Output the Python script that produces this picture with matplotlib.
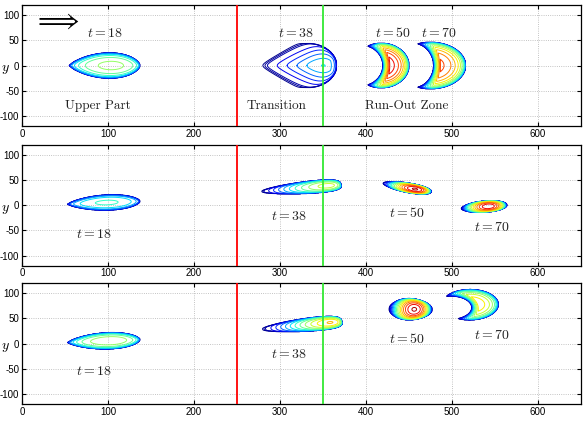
import numpy as np
import matplotlib
matplotlib.use("Agg")
import matplotlib.pyplot as plt

plt.rcParams['mathtext.fontset'] = 'cm'
plt.rcParams['font.family'] = ['Liberation Sans', 'DejaVu Sans']
plt.rcParams['axes.unicode_minus'] = False

# ---- data ----
# elongated streaks: panel, tail (x, y), head (x, y), half width,
# tail width fraction, width growth, head taper, tail rounding, rise, fall, peak
streak_panel = [0, 1, 1, 1, 1, 2, 2, 2]
streak_tail = [(55, 0), (53, 2), (278, 27), (420, 44), (511, -7), (53, 2), (278, 28), (427, 69)]
streak_head = [(137, 0), (137, 8), (371, 41), (476, 26), (564, 1), (137, 8), (372, 44), (477, 67)]
streak_halfw = [25, 15, 12, 9, 11, 16, 13, 21]
streak_t0 = [0.0, 0.0, 0.2, 0.2, 0.2, 0.0, 0.2, 0.5]
streak_grow = [0.8, 0.8, 1.0, 0.9, 0.8, 0.8, 1.0, 0.5]
streak_taper = [0.6, 0.6, 0.3, 0.5, 0.5, 0.6, 0.3, 0.5]
streak_round = [50, 50, 8, 8, 8, 50, 8, 3]
streak_rise = [0.3, 0.3, 1.0, 1.0, 0.9, 0.35, 1.2, 1.0]
streak_fall = [0.2, 0.25, 0.2, 0.5, 0.6, 0.25, 0.2, 0.7]
streak_peak = [0.55, 0.42, 0.62, 0.97, 0.95, 0.58, 0.72, 0.97]

# crescent-shaped fronts: panel, centre, outer radii, inner offset, inner radii, angle, peak
cres_panel = [0, 0, 2]
cres_center = [(418, 0), (475, 0), (521, 77)]
cres_outer = [(32, 44), (41, 46), (33, 30)]
cres_offset = [(-23, 0), (-20, 0), (-22, -4)]
cres_inner = [(25, 40), (24, 44), (24, 23)]
cres_angle = [0, 0, 5]
cres_peak = [0.97, 0.88, 0.72]

# chevron at t = 38 in the top panel: back x, back slope, nose rounding, ramp,
# front centre x, front radii, peak
chev_back = 278
chev_slope = 1.0
chev_nose = 5
chev_ramp = 75
chev_front = 332
chev_radii = (34, 44)
chev_peak = 0.40

labels_t = [
    [('t = 18', 97, 64), ('t = 38', 319, 64), ('t = 50', 432, 64), ('t = 70', 485, 64)],
    [('t = 18', 84, -57), ('t = 38', 311, -21), ('t = 50', 448, -16), ('t = 70', 547, -43)],
    [('t = 18', 84, -54), ('t = 38', 311, -20), ('t = 50', 448, 8), ('t = 70', 547, 16)],
]
zone_labels = [('Upper Part', 88, -80), ('Transition', 296, -80), ('Run-Out Zone', 448, -80)]
boundaries = [(250, 'red'), (350, '#33e833')]

levels = np.concatenate([[0.012, 0.025], np.linspace(0.04, 0.96, 16)])
edge = 0.3

x = np.arange(0, 650.5, 0.5)
y = np.arange(-120, 120.5, 0.5)
X, Y = np.meshgrid(x, y)


def width_profile(u, t0, p, r, kt):
    return (t0 + (1 - t0) * u ** p) * (1 - u) ** r * np.sqrt(1 - (1 - u) ** kt)


def streak(tail, head, hw, t0, p, r, kt, a, c, peak):
    tx, ty = tail
    hx, hy = head
    L = np.hypot(hx - tx, hy - ty)
    ex, ey = (hx - tx) / L, (hy - ty) / L
    u = ((X - tx) * ex + (Y - ty) * ey) / L
    v = -(X - tx) * ey + (Y - ty) * ex
    uc = np.clip(u, 1e-6, 1 - 1e-6)
    norm = width_profile(np.linspace(1e-4, 1 - 1e-4, 2000), t0, p, r, kt).max()
    w = hw * width_profile(uc, t0, p, r, kt) / norm
    gm = a / (a + c)
    g = (uc ** a * (1 - uc) ** c) / (gm ** a * (1 - gm) ** c)
    q = np.clip(1 - (v / w) ** 2, 0, 1)
    return np.where((u > 0) & (u < 1), peak * g * q ** edge, 0)


def crescent(center, outer, offset, inner, angle, peak):
    th = np.radians(angle)
    dx, dy = X - center[0], Y - center[1]
    xl = np.cos(th) * dx + np.sin(th) * dy
    yl = -np.sin(th) * dx + np.cos(th) * dy
    ro = (xl / outer[0]) ** 2 + (yl / outer[1]) ** 2
    ri = ((xl - offset[0]) / inner[0]) ** 2 + ((yl - offset[1]) / inner[1]) ** 2
    return (peak * np.clip(1 - ro, 0, 1) ** edge
            * np.clip((ri - 1) / 0.8, 0, 1) ** (edge + 0.2))


def chevron():
    xb = chev_back + chev_slope * (np.sqrt(Y ** 2 + chev_nose ** 2) - chev_nose)
    b = np.clip((X - xb) / chev_ramp, 0, 1)
    dx = np.clip(X - chev_front, 0, None)
    f = np.clip(1 - (dx / chev_radii[0]) ** 2 - (Y / chev_radii[1]) ** 2, 0, 1) ** edge
    return chev_peak * b * f


fields = [np.zeros_like(X) for _ in range(3)]
for i in range(len(streak_panel)):
    fields[streak_panel[i]] += streak(streak_tail[i], streak_head[i], streak_halfw[i],
                                      streak_t0[i], streak_grow[i], streak_taper[i],
                                      streak_round[i], streak_rise[i], streak_fall[i],
                                      streak_peak[i])
for i in range(len(cres_panel)):
    fields[cres_panel[i]] += crescent(cres_center[i], cres_outer[i], cres_offset[i],
                                      cres_inner[i], cres_angle[i], cres_peak[i])
fields[0] += chevron()

fig = plt.figure(figsize=(5.84, 4.23), dpi=100)
bottoms = [0.7021, 0.3719, 0.0449]
for k in range(3):
    ax = fig.add_axes([0.0377, bottoms[k], 0.9566, 0.286])
    ax.contour(X, Y, fields[k], levels=levels, cmap='jet', vmin=0, vmax=1, linewidths=0.7)
    for xb, col in boundaries:
        ax.axvline(xb, color=col, lw=1.3, zorder=5)
    ax.set_xlim(0, 650)
    ax.set_ylim(-120, 120)
    ax.set_xticks(np.arange(0, 700, 100))
    ax.set_yticks([-100, -50, 0, 50, 100])
    ax.grid(True, linestyle=':', color='#b0b0b0', lw=0.6)
    ax.tick_params(direction='in', top=True, right=True, labelsize=7, length=3, pad=2)
    ax.set_ylabel('$y$', rotation=0, fontsize=10, va='center')
    ax.yaxis.set_label_coords(-0.029, 0.47)
    for s in ax.spines.values():
        s.set_linewidth(0.9)
    for txt, tx, ty in labels_t[k]:
        ax.text(tx, ty, '$' + txt + '$', fontsize=10, ha='center', va='center', color='#222222')
    if k == 0:
        for txt, tx, ty in zone_labels:
            ax.text(tx, ty, txt, fontsize=9.5, ha='center', va='center',
                    family='cmr10', color='#222222')
        ax.text(40, 88, r'$\Longrightarrow$', fontsize=19, ha='center', va='center')

fig.savefig('out.png', dpi=100)
